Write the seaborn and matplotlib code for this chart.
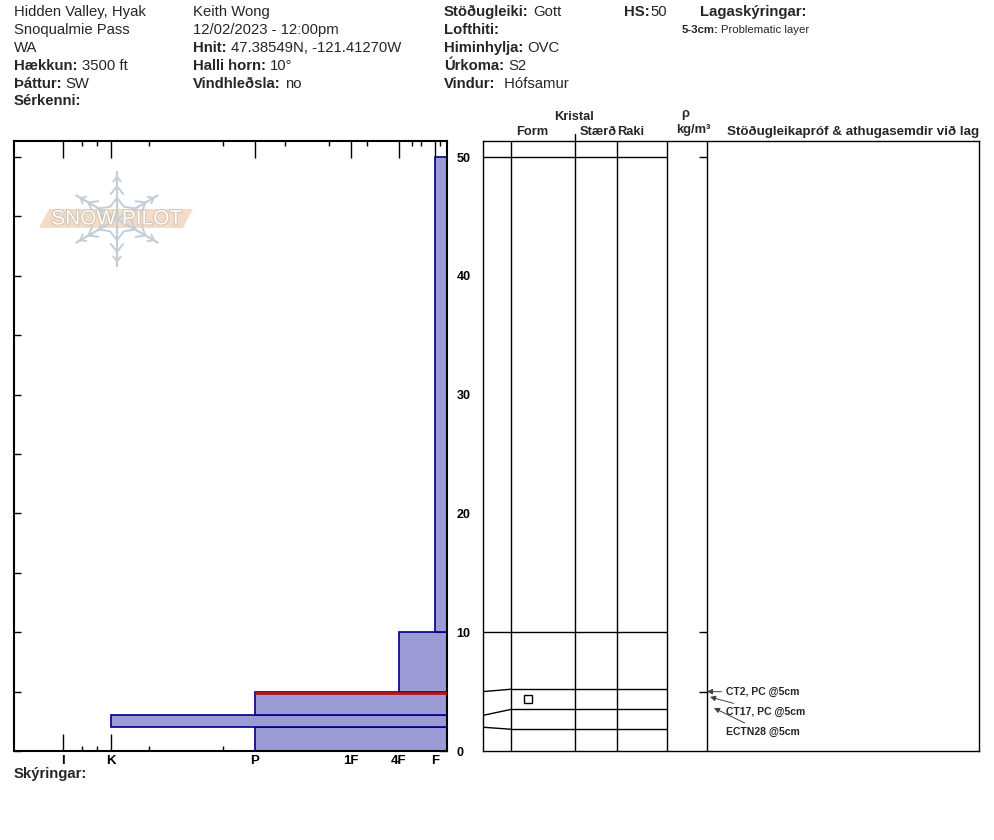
import numpy as np
import pandas as pd
import matplotlib
matplotlib.use('Agg')
import matplotlib.pyplot as plt
import seaborn as sns
from matplotlib.patches import Polygon
import matplotlib.patheffects as pe

# ---------------- data ----------------
layer_top = [50, 10, 5, 3, 2]
layer_bottom = [10, 5, 3, 2, 0]
layer_hardness = ['F', '4F', 'P', 'K', 'P']
layer_form = [False, False, True, False, False]   # faceted (square) grain form
hardness_labels = ['I', 'K', 'P', '1F', '4F', 'F']
hardness_values = [384, 336, 192, 96, 48, 12]
hardness_minor = [365, 350, 298, 224, 162, 118, 80, 35, 26, 7]
depth_ticks = [0, 10, 20, 30, 40, 50]
depth_minor = [5, 15, 25, 35, 45]
table_true = [50, 10, 5, 3, 2]
table_rows = [50, 10, 5.2, 3.5, 1.83]
density_ticks = [50, 10, 5]
problem_top = 5
tests = ['CT2, PC @5cm', 'CT17, PC @5cm', 'ECTN28 @5cm']
test_depth = 5

header_col1 = [("", "Hidden Valley, Hyak"), ("", "Snoqualmie Pass"), ("", "WA"),
               ("Hækkun:", "3500 ft"), ("Þáttur:", "SW"), ("Sérkenni:", "")]
header_col2 = [("", "Keith Wong"), ("", "12/02/2023 - 12:00pm"),
               ("Hnit:", "47.38549N, -121.41270W"), ("Halli horn:", "10°"),
               ("Vindhleðsla:", "no")]
header_col3 = [("Stöðugleiki:", "Gott"), ("Lofthiti:", ""), ("Himinhylja:", "OVC"),
               ("Úrkoma:", "S2"), ("Vindur:", " Hófsamur")]

# ---------------- figure ----------------
sns.set_style('white')
plt.rcParams['font.family'] = ['Liberation Sans', 'DejaVu Sans']
W, H = 994, 840
fig = plt.figure(figsize=(W / 100, H / 100), dpi=100)


def rect(x0, y0, x1, y1):
    return [x0 / W, 1 - y1 / H, (x1 - x0) / W, (y1 - y0) / H]


YMAX = 610 / 11.88
ax = fig.add_axes(rect(14, 141, 447, 751))
tb = fig.add_axes(rect(483, 141, 979, 751))

# ---- hardness profile ----
hmap = dict(zip(hardness_labels, hardness_values))
df = pd.DataFrame({
    'mid': [(t + b) / 2 for t, b in zip(layer_top, layer_bottom)],
    'hard': [hmap[h] for h in layer_hardness],
})
edges = sorted(set(layer_top + layer_bottom))
sns.histplot(data=df, y='mid', weights='hard', bins=edges, ax=ax,
             color='#9b9bd6', edgecolor='#000088', linewidth=1.2, alpha=1)
prob_h = hmap[layer_hardness[layer_top.index(problem_top)]]
ax.hlines(problem_top - 0.1, 0, prob_h, color='#b01818', lw=2, zorder=5)

ax.set_xlim(433, 0)
ax.set_ylim(0, YMAX)
ax.set_xlabel('')
ax.set_ylabel('')
ax.set_xticks(hardness_values)
ax.set_xticklabels(hardness_labels, fontweight='bold', fontsize=9.5)
ax.set_xticks(hardness_minor, minor=True)
ax.tick_params(axis='x', which='major', direction='in', length=12, width=1,
               top=True, bottom=True, pad=3, colors='black')
ax.tick_params(axis='x', which='minor', direction='in', length=3.6, width=1,
               top=True, bottom=True, colors='black')
ax.set_yticks(depth_ticks)
ax.set_yticklabels([str(v) for v in depth_ticks], fontweight='bold', fontsize=9)
ax.set_yticks(depth_minor, minor=True)
ax.tick_params(axis='y', which='both', direction='in', length=5, width=1,
               left=True, right=True, labelleft=False, labelright=True, pad=7,
               colors='black')
for s in ax.spines.values():
    s.set_color('black')
    s.set_linewidth(1.5)

# ---- table ----
tb.set_xlim(0, 496)
tb.set_ylim(0, YMAX)
tb.set_xticks([])
tb.set_yticks([])
for s in tb.spines.values():
    s.set_color('black')
    s.set_linewidth(1)
cols = [28, 92, 134, 184, 224]
tb.vlines(cols, 0, YMAX, color='black', lw=1)
for t, r in zip(table_true, table_rows):
    tb.plot([0, 28], [t, r], color='black', lw=1)
    tb.hlines(r, 28, 184, color='black', lw=1)
tb.hlines(density_ticks, 216, 224, color='black', lw=1)
row_bounds = table_rows + [0]
for i, f in enumerate(layer_form):
    if f:
        tb.plot(45, (row_bounds[i] + row_bounds[i + 1]) / 2, marker='s', ms=6,
                mfc='white', mec='black', mew=1)

text_y = [4.97, 3.28, 1.6]
tips = [(224, 5.0), (227, 4.55), (231, 3.62)]
for txt, ty, tip in zip(tests, text_y, tips):
    tb.annotate(txt, xy=tip, xytext=(243, ty), fontsize=7.5, fontweight='bold',
                va='center', ha='left', annotation_clip=False,
                arrowprops=dict(arrowstyle='-|>', color='#404040', lw=0.7,
                                mutation_scale=8, shrinkA=1, shrinkB=0))

# ---- overlay (header, logo) ----
ov = fig.add_axes([0, 0, 1, 1], zorder=10)
ov.set_xlim(0, W)
ov.set_ylim(H, 0)
ov.axis('off')
ov.patch.set_alpha(0)
rend = fig.canvas.get_renderer()


def lv(x, y, label, value, size=10.7, gap=4):
    xx = x
    if label:
        t = ov.text(x, y, label, fontsize=size, fontweight='bold', va='center', ha='left')
        xx = x + t.get_window_extent(renderer=rend).width + gap
    if value:
        ov.text(xx, y, value, fontsize=size, va='center', ha='left')


rows_y = [12, 30, 48, 66, 84, 101]
for (l, v), y in zip(header_col1, rows_y):
    lv(14, y, l, v)
for (l, v), y in zip(header_col2, rows_y):
    lv(193, y, l, v)
for (l, v), y in zip(header_col3, rows_y):
    lv(444, y, l, v)
lv(624, 12, "HS:", "50", gap=1)
ov.text(700, 12, "Lagaskýringar:", fontsize=10.7, fontweight='bold', va='center')
lv(682, 30, "5-3cm:", "Problematic layer", size=8.2, gap=2)
ov.text(14, 774, "Skýringar:", fontsize=10.7, fontweight='bold', va='center')

# table headers
ov.text(574, 117, "Kristal", fontsize=9.3, fontweight='bold', ha='center', va='center')
ov.text(532, 132, "Form", fontsize=9.3, fontweight='bold', ha='center', va='center')
ov.text(617, 132, "Stærð", fontsize=9.3, fontweight='bold', ha='right', va='center')
ov.text(617, 132, "Raki", fontsize=9.3, fontweight='bold', ha='left', va='center')
ov.text(685, 114, "ρ", fontsize=9.3, fontweight='bold', ha='center', va='center')
ov.text(693, 130, "kg/m³", fontsize=9.3, fontweight='bold', ha='center', va='center')
ov.text(727, 132, "Stöðugleikapróf & athugasemdir við lag", fontsize=9.6,
        fontweight='bold', ha='left', va='center')
ov.plot([575, 575], [134, 141], color='black', lw=1)

# logo
cx, cy, R = 117, 219, 47
fl = '#c3ced8'
for ang in [90, 30, 150, 210, 270, 330]:
    a = np.deg2rad(ang)
    dx, dy = np.cos(a), -np.sin(a)
    ov.plot([cx, cx + R * dx], [cy, cy + R * dy], color=fl, lw=1.6, solid_capstyle='round')
    for frac, bl in [(0.45, 11), (0.7, 10), (0.9, 6)]:
        px, py = cx + frac * R * dx, cy + frac * R * dy
        for side in (1, -1):
            b = a + np.pi + side * np.deg2rad(38)
            ov.plot([px, px + bl * np.cos(b)], [py, py - bl * np.sin(b)],
                    color=fl, lw=1.4, solid_capstyle='round')
ov.add_patch(Polygon([(49, 209), (193, 209), (183, 228), (39, 228)],
                     closed=True, facecolor='#f3dcc7', edgecolor='none'))
ov.text(117, 219, "SNOW PILOT", fontsize=15, color='white', ha='center', va='center',
        path_effects=[pe.withStroke(linewidth=1.2, foreground='#cdbcab')])

fig.savefig('out.png', dpi=100)
